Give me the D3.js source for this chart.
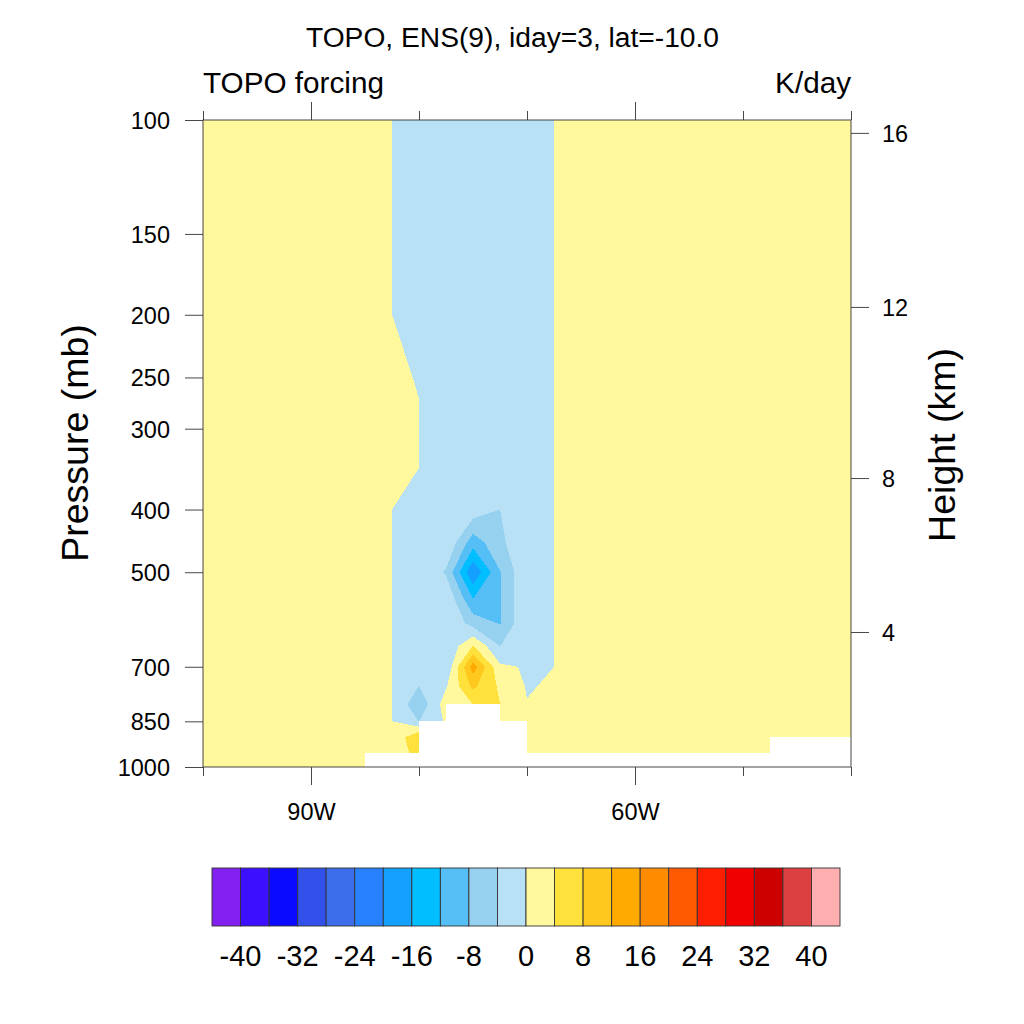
<!DOCTYPE html>
<html><head><meta charset="utf-8">
<script src="https://cdn.jsdelivr.net/npm/d3@7"></script>
<style>html,body{margin:0;padding:0;background:#fff}svg{display:block}text{font-family:"Liberation Sans",Arial,sans-serif;fill:#000}</style>
</head><body><svg id="c" width="1024" height="1024"></svg>
<script>
const titleText = "TOPO, ENS(9), iday=3, lat=-10.0";
const leftTitle = "TOPO forcing";
const rightTitle = "K/day";
const yTitle = "Pressure (mb)";
const rightAxisTitle = "Height (km)";
const lons = [-100,-97.5,-95,-92.5,-90,-87.5,-85,-82.5,-80,-77.5,-75,-72.5,-70,-67.5,-65,-62.5,-60,-57.5,-55,-52.5,-50,-47.5,-45,-42.5,-40];
const levels = [100,150,200,250,270,300,345,400,450,500,550,600,650,700,750,800,850,900,950,1000];
const _ = null;
const forcing = [
[0,0,0,0,0,0,0,0,-.3,-.5,-.5,-.5,-.3,0,0,0,0,0,0,0,0,0,0,0,0],
[0,0,0,0,0,0,0,0,-.3,-.5,-.5,-.5,-.3,0,0,0,0,0,0,0,0,0,0,0,0],
[0,0,0,0,0,0,0,0,-.3,-.5,-.5,-.5,-.3,0,0,0,0,0,0,0,0,0,0,0,0],
[0,0,0,0,0,0,0,.77,-.23,-.5,-.5,-.5,-.3,0,0,0,0,0,0,0,0,0,0,0,0],
[0,0,0,0,0,0,0,.5,0,-.5,-.5,-.5,-.3,0,0,0,0,0,0,0,0,0,0,0,0],
[0,0,0,0,0,0,0,.5,0,-.5,-.5,-.5,-.3,0,0,0,0,0,0,0,0,0,0,0,0],
[0,0,0,0,0,0,0,.5,0,-.5,-.5,-.5,-.3,0,0,0,0,0,0,0,0,0,0,0,0],
[0,0,0,0,0,0,0,0,-.3,-.5,-1.7,-4.02,-.3,0,0,0,0,0,0,0,0,0,0,0,0],
[0,0,0,0,0,0,0,0,-.3,-.3,-10.3,-5,-.3,0,0,0,0,0,0,0,0,0,0,0,0],
[0,0,0,0,0,0,0,0,-.3,-4.5,-19.5,-8.2,-.3,0,0,0,0,0,0,0,0,0,0,0,0],
[0,0,0,0,0,0,0,0,-.3,-.3,-12,-8.3,-.3,0,0,0,0,0,0,0,0,0,0,0,0],
[0,0,0,0,0,0,0,0,-.3,-.3,-5.5,-8.2,-.3,0,0,0,0,0,0,0,0,0,0,0,0],
[0,0,0,0,0,0,0,0,-.3,-3.5,4.1,-4.05,-.3,0,0,0,0,0,0,0,0,0,0,0,0],
[0,0,0,0,0,0,0,0,-.5,-3.8,14,.7,-.35,0,0,0,0,0,0,0,0,0,0,0,0],
[0,0,0,0,0,0,0,0,-4.02,-.4,8.9,3.3,-.3,.47,0,0,0,0,0,0,0,0,0,0,0],
[0,0,0,0,0,0,0,0,-7,2,4.02,4.02,.15,0,0,0,0,0,0,0,0,0,0,0,0],
[0,0,0,0,0,0,0,0,-4.1,.5,_,1,1,0,0,0,0,0,0,0,0,0,0,0,0],
[0,0,0,0,0,0,0,.1,8.2,_,_,_,1,0,0,0,0,0,0,0,0,0,0,0,0],
[0,0,0,0,0,0,0,.5,6,_,_,_,1,0,0,0,0,0,0,0,0,0,_,_,_],
[0,0,0,0,0,0,0,_,_,_,_,_,_,_,_,_,_,_,_,_,_,_,_,_,_]
];
const lowerBounds = [-100,-40,-36,-32,-28,-24,-20,-16,-12,-8,-4,0,4,8,12,16,20,24,28,32,36,40];
const fillColors = ["#8220f0","#3c0fff","#0a0aff","#3350eb","#3c6eeb","#2882ff","#14a0ff","#00beff","#55bef5","#96d2f0","#b9e1f5","#fff89c","#ffe13c","#ffc81e","#ffaa00","#ff8c00","#ff5a00","#ff1e00","#f00000","#cd0000","#dc4040","#ffafaf"];
const barLabels = [-40,-32,-24,-16,-8,0,8,16,24,32,40];
const pressureTicks = [100,150,200,250,300,400,500,700,850,1000];
const lonMajor = [-90,-60];
const lonMinor = [-100,-80,-70,-50,-40];
const heightTicks = [16,12,8,4];
const heightPressures = [104.7,194.5,357.6,618.5];

const svg = d3.select("#c");
const x = d3.scaleLinear([-100,-40],[203,851]);
const y = d3.scaleLog([100,1000],[120,767]);
const bar = d3.scaleLinear([-44,44],[212,840]);
const barTop = 868, barBottom = 926;
const lineCol = "#333", lw = 0.9;

// filled contours on the index grid, mapped to pixel space through the scales
const nx = lons.length, ny = levels.length;
const flat = forcing.flat().map(v => v === null ? 0 : v);
const ix = d3.scaleLinear(lons.map((d,i)=>i), lons.map(d=>x(d))).clamp(true);
const iy = d3.scaleLinear(levels.map((d,i)=>i), levels.map(d=>y(d))).clamp(true);
const path = d3.geoPath(d3.geoTransform({point(px,py){ this.stream.point(ix(px-0.5), iy(py-0.5)); }}));
const gen = d3.contours().size([nx,ny]).smooth(true);
svg.append("g").selectAll("path").data(lowerBounds).join("path")
  .attr("d", t => path(gen.contour(flat,t)))
  .attr("fill",(t,i)=>fillColors[i]).attr("fill-rule","evenodd").attr("shape-rendering","crispEdges");

// cells touching a missing grid point are left blank
const blank = [];
for (let j=0;j<ny-1;j++) for (let i=0;i<nx-1;i++) {
  if ([forcing[j][i],forcing[j][i+1],forcing[j+1][i],forcing[j+1][i+1]].includes(null)) blank.push([i,j]);
}
svg.append("g").selectAll("rect").data(blank).join("rect")
  .attr("x",d=>x(lons[d[0]])).attr("width",d=>x(lons[d[0]+1])-x(lons[d[0]]))
  .attr("y",d=>y(levels[d[1]])).attr("height",d=>y(levels[d[1]+1])-y(levels[d[1]]))
  .attr("fill","#fff").attr("shape-rendering","crispEdges");

// frame
svg.append("rect").attr("x",x.range()[0]).attr("y",y.range()[0])
  .attr("width",x.range()[1]-x.range()[0]).attr("height",y.range()[1]-y.range()[0])
  .attr("fill","none").attr("stroke",lineCol).attr("stroke-width",lw);

function styleAxis(g,size){
  g.select(".domain").remove();
  g.selectAll(".tick line").attr("stroke",lineCol).attr("stroke-width",lw);
  g.selectAll(".tick text").attr("font-size",size).attr("fill","#000");
}
svg.append("g").attr("transform",`translate(${x(-100)},0)`)
  .call(d3.axisLeft(y).tickValues(pressureTicks).tickFormat(d3.format("d")).tickSize(18).tickPadding(15))
  .attr("font-family",null).call(g=>styleAxis(g,23.5)).call(g=>g.selectAll(".tick text").attr("dy","0.36em"));
svg.append("g").attr("transform",`translate(${x(-40)},0)`)
  .call(d3.axisRight(y).tickValues(heightPressures).tickFormat((d,i)=>heightTicks[i]).tickSize(18).tickPadding(13))
  .attr("font-family",null).call(g=>styleAxis(g,23.5)).call(g=>g.selectAll(".tick text").attr("dy","0.36em"));
svg.append("g").attr("transform",`translate(0,${y(1000)})`)
  .call(d3.axisBottom(x).tickValues(lonMajor).tickFormat(d=>Math.abs(d)+"W").tickSize(18).tickPadding(18))
  .attr("font-family",null).call(g=>styleAxis(g,23.5));
svg.append("g").attr("transform",`translate(0,${y(1000)})`)
  .call(d3.axisBottom(x).tickValues(lonMinor).tickFormat("").tickSize(9))
  .call(g=>styleAxis(g,21));
svg.append("g").attr("transform",`translate(0,${y(100)})`)
  .call(d3.axisTop(x).tickValues(lonMajor).tickFormat("").tickSize(18))
  .call(g=>styleAxis(g,21));
svg.append("g").attr("transform",`translate(0,${y(100)})`)
  .call(d3.axisTop(x).tickValues(lonMinor).tickFormat("").tickSize(9))
  .call(g=>styleAxis(g,21));

// titles
const txt=(s,px,py,size,anchor,rot)=>{const t=svg.append("text").text(s).attr("font-size",size).attr("text-anchor",anchor||"middle");
  if(rot) t.attr("transform",`translate(${px},${py}) rotate(${rot})`); else t.attr("x",px).attr("y",py); return t;};
txt(titleText,512.5,47,28.2);
txt(leftTitle,203,93,29.7,"start");
txt(rightTitle,851,93,29.7,"end");
txt(yTitle,88,443,37.5,"middle",-90);
txt(rightAxisTitle,955,445,37.5,"middle",-90);

// label bar
svg.append("g").selectAll("rect").data(lowerBounds).join("rect")
  .attr("x",(d,i)=>bar(-44+4*i)).attr("width",bar(0)-bar(-4))
  .attr("y",barTop).attr("height",barBottom-barTop)
  .attr("fill",(d,i)=>fillColors[i]).attr("stroke",lineCol).attr("stroke-width",lw);
svg.append("g").selectAll("text").data(barLabels).join("text")
  .attr("x",d=>bar(d)).attr("y",966).attr("text-anchor","middle").attr("font-size",29).text(d=>d);
</script></body></html>
